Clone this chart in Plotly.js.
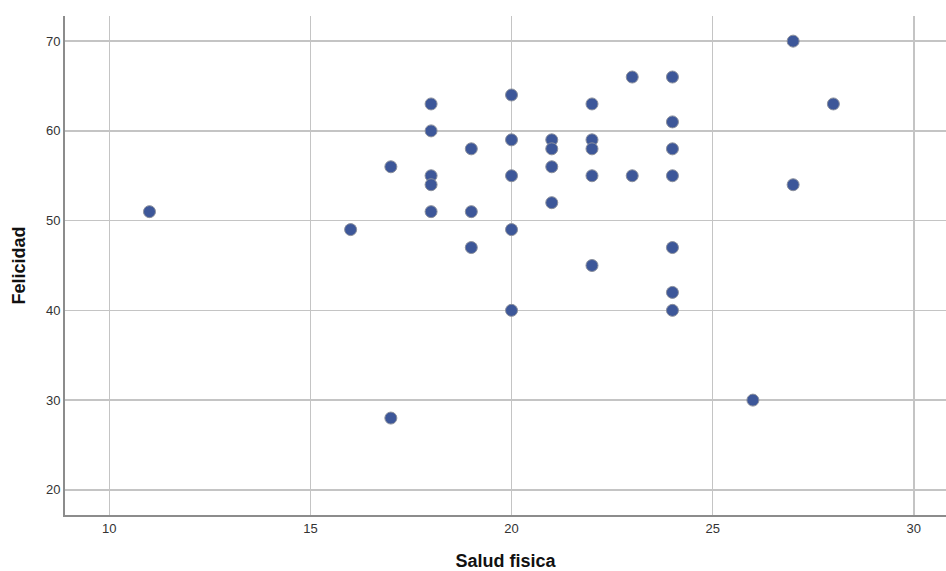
<!DOCTYPE html>
<html>
<head>
<meta charset="utf-8">
<script src="https://cdn.plot.ly/plotly-3.0.1.min.js"></script>
<style>html,body{margin:0;padding:0;background:#fff;}#chart{width:946px;height:571px;}</style>
</head>
<body>
<div id="chart"></div>
<script>
const saludFisica = [11,16,17,17,18,18,18,18,18,19,19,19,20,20,20,20,20,21,21,21,21,22,22,22,22,22,23,23,24,24,24,24,24,24,24,26,27,27,28];
const felicidad   = [51,49,56,28,63,60,55,54,51,58,51,47,64,59,55,49,40,59,58,56,52,63,59,58,55,45,66,55,66,61,58,55,47,42,40,30,70,54,63];
const xTicks = [10,15,20,25,30];
const yTicks = [20,30,40,50,60,70];

const trace = {
  x: saludFisica, y: felicidad, type: 'scatter', mode: 'markers',
  marker: {size: 12, color: '#3d5799', line: {color: '#8a8f9c', width: 1}},
  hoverinfo: 'x+y'
};
const layout = {
  width: 946, height: 571,
  margin: {l: 65, r: 0, t: 16, b: 56},
  paper_bgcolor: '#fff', plot_bgcolor: '#fff',
  showlegend: false,
  font: {family: 'Liberation Sans, Arial, sans-serif', color: '#333'},
  xaxis: {
    range: [8.9, 30.8], tickvals: xTicks, ticktext: xTicks.map(String),
    showgrid: true, gridcolor: '#c4c4c4', gridwidth: 1.5,
    zeroline: false, showline: true, linecolor: '#8c8c8c', linewidth: 2,
    ticks: '', tickfont: {size: 13, color: '#333'},
    title: {text: 'Salud fisica', font: {size: 18, color: '#111', family: 'Liberation Sans, Arial, sans-serif', weight: 'bold'}, standoff: 20}
  },
  yaxis: {
    range: [17.2, 72.8], tickvals: yTicks, ticktext: yTicks.map(String),
    showgrid: true, gridcolor: '#c4c4c4', gridwidth: 1.5,
    zeroline: false, showline: true, linecolor: '#8c8c8c', linewidth: 2,
    ticks: '', ticklen: 0, tickfont: {size: 13, color: '#333'},
    title: {text: 'Felicidad', font: {size: 18, color: '#111', family: 'Liberation Sans, Arial, sans-serif', weight: 'bold'}, standoff: 16}
  }
};
Plotly.newPlot('chart', [trace], layout, {displayModeBar: false, staticPlot: true});
</script>
</body>
</html>
